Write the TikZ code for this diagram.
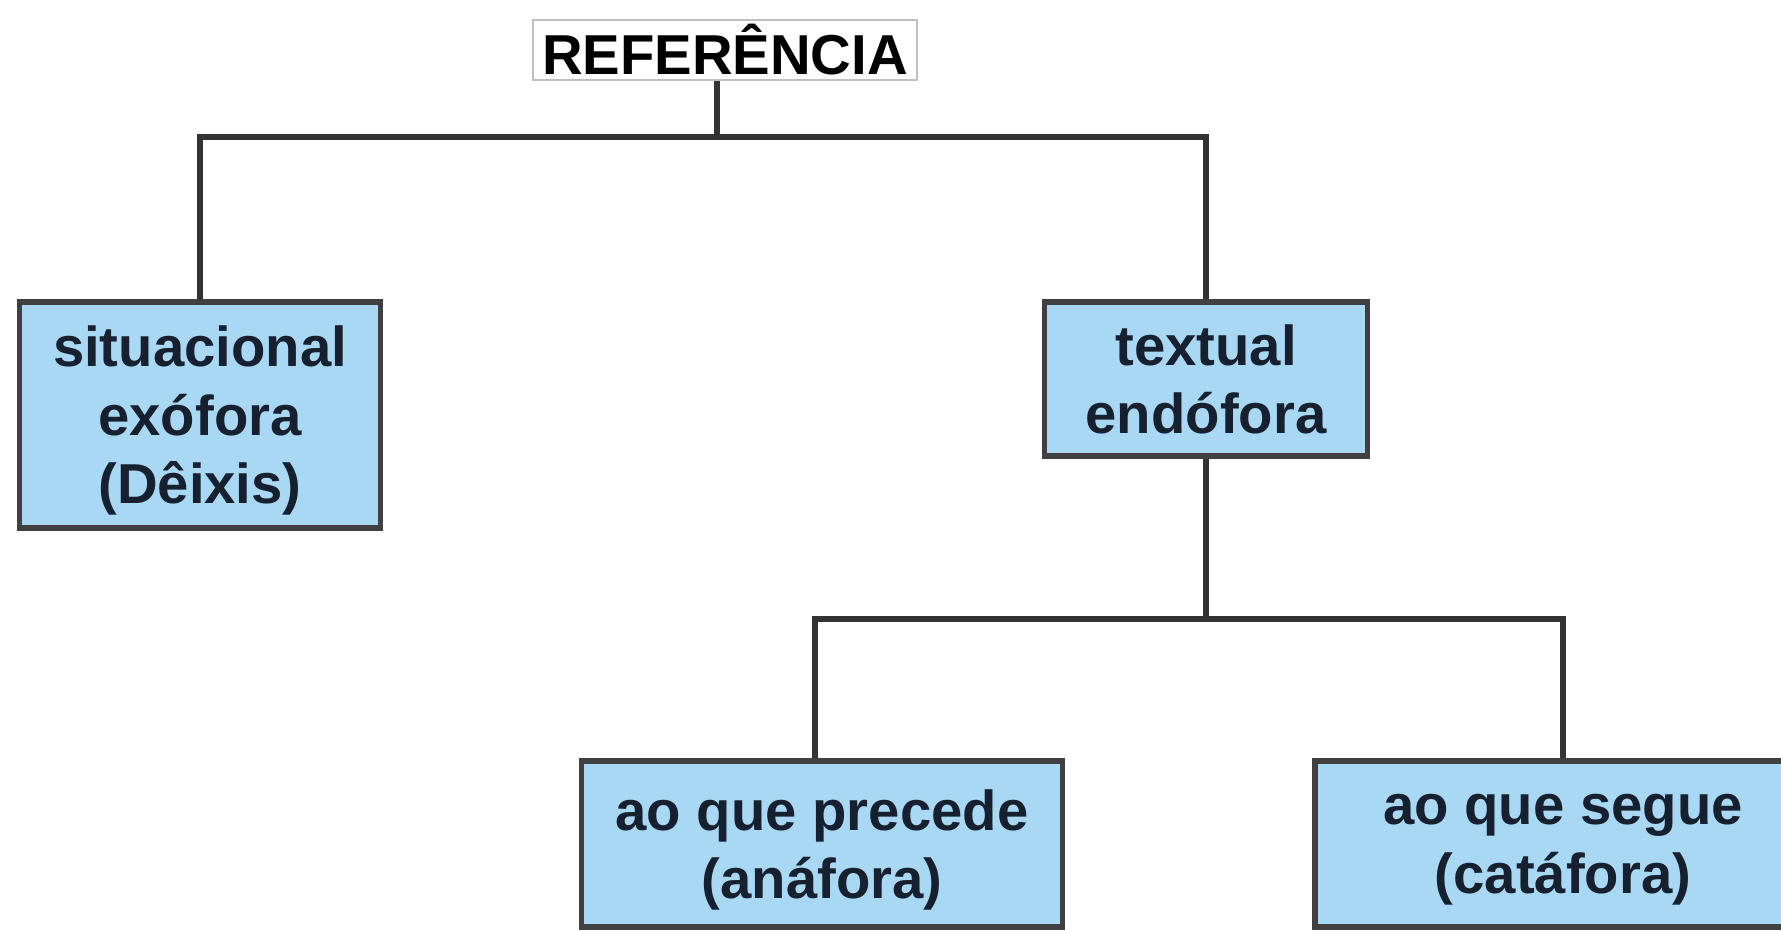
\documentclass[tikz,border=0pt]{standalone}
\usepackage{fontspec}
\setmainfont{Liberation Sans}
\definecolor{boxblue}{RGB}{168,216,244}
\definecolor{inkdark}{RGB}{22,32,46}
\begin{document}
\begin{tikzpicture}[x=0.01cm, y=-0.01cm,
    box/.style={draw=black!75, line width=1.5pt, fill=boxblue, text=inkdark,
      align=center, inner sep=0pt, text depth=0pt, font=\fontsize{16}{19.5}\selectfont\bfseries},
    link/.style={draw=black!80, line width=1.5pt}]
    \clip (0,0) rectangle (1781,930);
    % title
    \node [draw=black!25, line width=0.6pt, inner sep=0pt, minimum width=3.84cm,
      minimum height=0.6cm, font=\fontsize{16}{19}\selectfont\bfseries] (ref) at (725,50) {REFERÊNCIA};
    % first level
    \node [box, minimum width=3.61cm, minimum height=2.26cm] (sit) at (200,415) {situacional\\exófora\\(Dêixis)};
    \node [box, minimum width=3.23cm, minimum height=1.54cm] (txt) at (1206,379) {textual\\endófora};
    % second level
    \node [box, minimum width=4.81cm, minimum height=1.66cm] (pre) at (822,844) {ao que precede\\(anáfora)};
    \node [box, minimum width=4.96cm, minimum height=1.66cm] (seg) at (1563,844) {ao que segue\\(catáfora)};
    \coordinate (top) at (0,137);
    \coordinate (mid) at (0,619);
    \draw [link] ([xshift=-0.08cm]ref.south) -- ([xshift=-0.08cm]ref.south |- top);
    \draw [link] (sit.north) -- (sit.north |- top) -- (txt.north |- top) -- (txt.north);
    \draw [link] (txt.south) -- (txt.south |- mid);
    \draw [link] ([xshift=-0.07cm]pre.north) -- ([xshift=-0.07cm]pre.north |- mid) -- (seg.north |- mid) -- (seg.north);
\end{tikzpicture}
\end{document}
